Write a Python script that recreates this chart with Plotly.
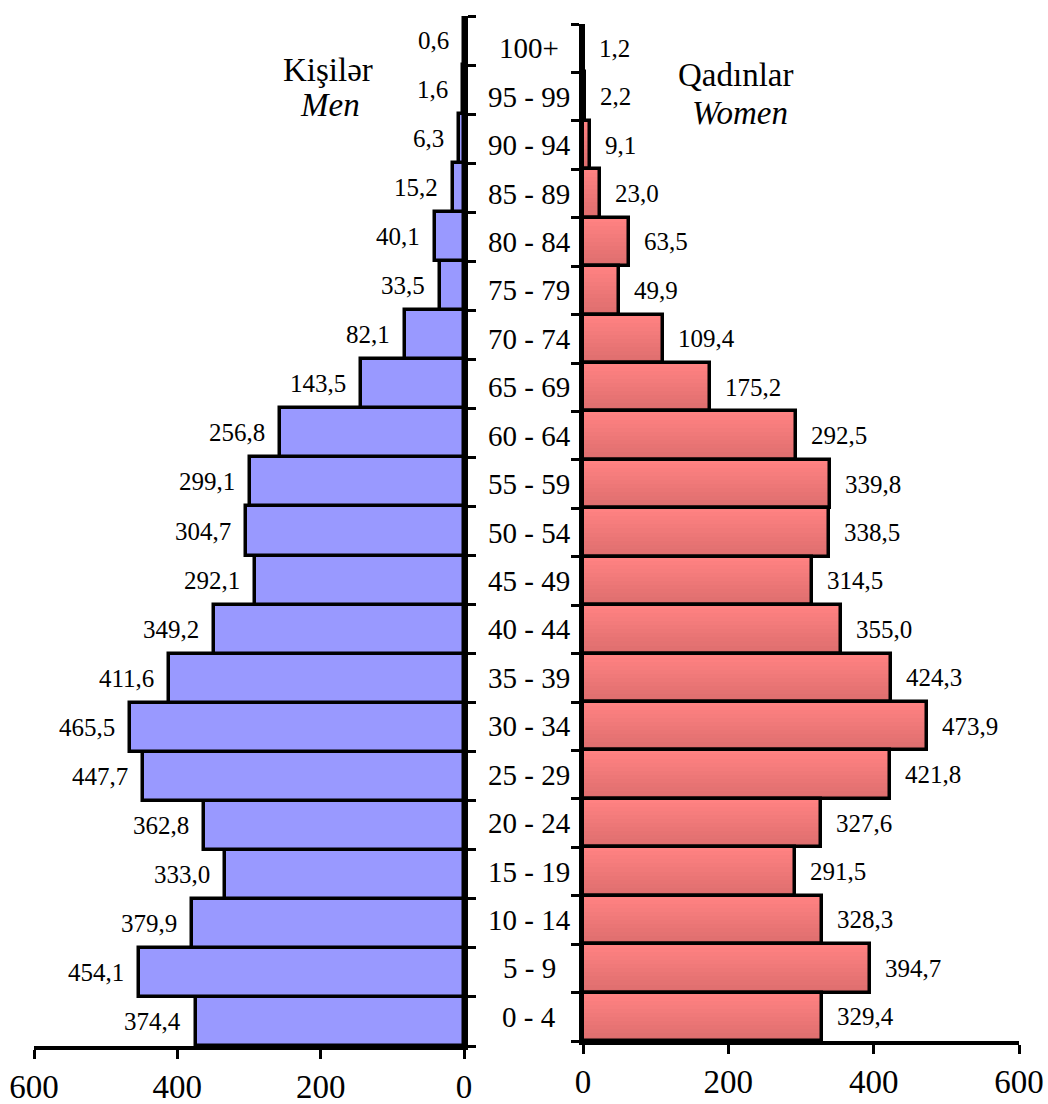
import plotly.graph_objects as go

# Age groups listed from youngest (bottom) to oldest (top)
age_groups = ["0 - 4", "5 - 9", "10 - 14", "15 - 19", "20 - 24", "25 - 29", "30 - 34",
              "35 - 39", "40 - 44", "45 - 49", "50 - 54", "55 - 59", "60 - 64", "65 - 69",
              "70 - 74", "75 - 79", "80 - 84", "85 - 89", "90 - 94", "95 - 99", "100+"]
men = [374.4, 454.1, 379.9, 333.0, 362.8, 447.7, 465.5, 411.6, 349.2, 292.1, 304.7,
       299.1, 256.8, 143.5, 82.1, 33.5, 40.1, 15.2, 6.3, 1.6, 0.6]
women = [329.4, 394.7, 328.3, 291.5, 327.6, 421.8, 473.9, 424.3, 355.0, 314.5, 338.5,
         339.8, 292.5, 175.2, 109.4, 49.9, 63.5, 23.0, 9.1, 2.2, 1.2]
x_ticks = [0, 200, 400, 600]

W, H = 1048, 1104
pos = list(range(len(age_groups)))
FONT = "Liberation Serif, Times New Roman, DejaVu Serif, serif"
EDGE = 3.5


def fx(px):
    return px / W


def fy(py):
    return (H - py) / H


fig = go.Figure()

# Men: flat blue bars on the reversed left axis
fig.add_trace(go.Bar(
    y=pos, x=men, orientation="h", width=1.0,
    marker=dict(color="#9999FF", line=dict(color="black", width=EDGE)),
    xaxis="x", yaxis="y", hoverinfo="skip", showlegend=False,
))

# Women: vertical gradient built from thin stacked bands, darker towards the bottom
N = 12
top_c = (255, 130, 130)
bot_c = (222, 110, 110)
for k in range(N):
    t = k / (N - 1)  # 0 = bottom band, 1 = top band
    c = tuple(round(b + (tc - b) * t) for b, tc in zip(bot_c, top_c))
    fig.add_trace(go.Bar(
        y=pos, x=women, orientation="h",
        width=1.0 / N + 0.01, offset=-0.5 + k / N,
        marker=dict(color="rgb(%d,%d,%d)" % c, line=dict(width=0)),
        xaxis="x2", yaxis="y2", hoverinfo="skip", showlegend=False,
    ))
# Outline on top of the gradient
fig.add_trace(go.Bar(
    y=pos, x=women, orientation="h", width=1.0,
    marker=dict(color="rgba(0,0,0,0)", line=dict(color="black", width=EDGE)),
    xaxis="x2", yaxis="y2", hoverinfo="skip", showlegend=False,
))

annotations = []
for i, v in enumerate(men):
    annotations.append(dict(
        x=v, y=i, xref="x", yref="y", text=f"{v:.1f}".replace(".", ","),
        xanchor="right", yanchor="middle", xshift=-13, showarrow=False,
        font=dict(family=FONT, size=25, color="black"),
    ))
for i, v in enumerate(women):
    annotations.append(dict(
        x=v, y=i, xref="x2", yref="y2", text=f"{v:.1f}".replace(".", ","),
        xanchor="left", yanchor="middle", xshift=13, showarrow=False,
        font=dict(family=FONT, size=25, color="black"),
    ))
for i, lab in enumerate(age_groups):
    annotations.append(dict(
        x=fx(529), y=i, xref="paper", yref="y2", text=lab,
        xanchor="center", yanchor="middle", showarrow=False,
        font=dict(family=FONT, size=29, color="black"),
    ))

# Panel titles
title_font = dict(family=FONT, size=33, color="black")
for tx, ty, txt in [(328, 70, "Kişilər"), (330, 105, "<i>Men</i>"),
                    (735, 75, "Qadınlar"), (740, 113, "<i>Women</i>")]:
    annotations.append(dict(
        x=fx(tx), y=fy(ty), xref="paper", yref="paper", text=txt,
        xanchor="center", yanchor="middle", showarrow=False, font=title_font,
    ))

bounds = [p - 0.5 for p in pos] + [pos[-1] + 0.5]
axis_common = dict(showgrid=False, zeroline=False, showline=True, linecolor="black",
                   linewidth=EDGE, ticks="outside", tickcolor="black", tickwidth=3,
                   automargin=False)

fig.update_layout(
    width=W, height=H,
    margin=dict(l=0, r=0, t=0, b=0, autoexpand=False),
    paper_bgcolor="white", plot_bgcolor="white",
    barmode="overlay", bargap=0,
    font=dict(family=FONT, color="black"),
    xaxis=dict(domain=[fx(34), fx(464)], range=[600, 0], anchor="y",
               tickvals=x_ticks, ticklen=9, tickfont=dict(family=FONT, size=33),
               **axis_common),
    yaxis=dict(domain=[fy(1046), fy(16)], range=[-0.5, 20.5], anchor="x", side="right",
               tickvals=bounds, showticklabels=False, ticklen=8, **axis_common),
    xaxis2=dict(domain=[fx(583), fx(1019)], range=[0, 600], anchor="y2",
                tickvals=x_ticks, ticklen=9, tickfont=dict(family=FONT, size=33),
                **axis_common),
    yaxis2=dict(domain=[fy(1041), fy(24)], range=[-0.5, 20.5], anchor="x2", side="left",
                tickvals=bounds, showticklabels=False, ticklen=8, **axis_common),
    annotations=annotations,
)

fig.write_html("out.html")
